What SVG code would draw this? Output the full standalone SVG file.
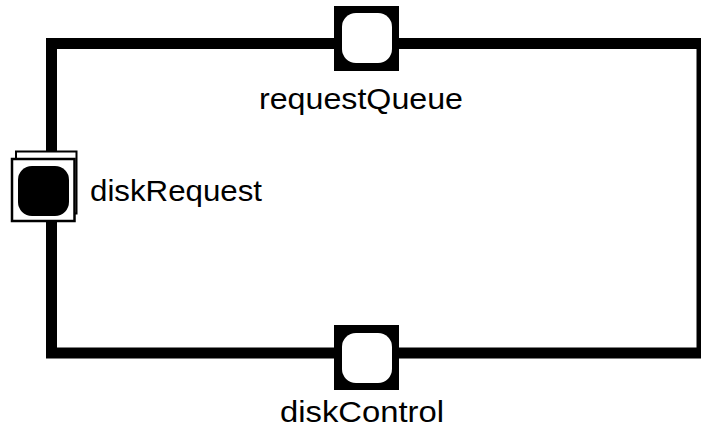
<svg xmlns="http://www.w3.org/2000/svg" width="701" height="435" viewBox="0 0 701 435">
<style>
.frame{fill:none;stroke:#000;stroke-width:11}
.lbl{font-family:"Liberation Sans",Arial,sans-serif;font-size:30px;fill:#000}
.portbox{fill:#000}
.hole{fill:#fff}
</style>
<rect width="701" height="435" fill="#fff"/>
<g id="connectors">
<rect class="frame" x="51.5" y="43.5" width="650.5" height="309.5"/>
</g>
<g id="requestQueue">
<rect class="portbox" x="334" y="6" width="65" height="65"/>
<rect class="hole" x="342" y="13" width="50" height="50" rx="14"/>
<text class="lbl" x="259" y="109" textLength="204" lengthAdjust="spacingAndGlyphs">requestQueue</text>
</g>
<g id="diskRequest">
<rect x="16" y="151.5" width="60.5" height="62" fill="#fff" stroke="#000" stroke-width="2"/>
<rect x="12" y="159" width="62.5" height="62" fill="#fff" stroke="#000" stroke-width="2.5"/>
<rect class="portbox" x="18" y="166" width="51" height="50" rx="14"/>
<text class="lbl" x="90" y="200.5" textLength="172" lengthAdjust="spacingAndGlyphs">diskRequest</text>
</g>
<g id="diskControl">
<rect class="portbox" x="334" y="325" width="65" height="65"/>
<rect class="hole" x="342" y="333" width="50" height="50" rx="14"/>
<text class="lbl" x="280" y="422" textLength="164" lengthAdjust="spacingAndGlyphs">diskControl</text>
</g>
</svg>
